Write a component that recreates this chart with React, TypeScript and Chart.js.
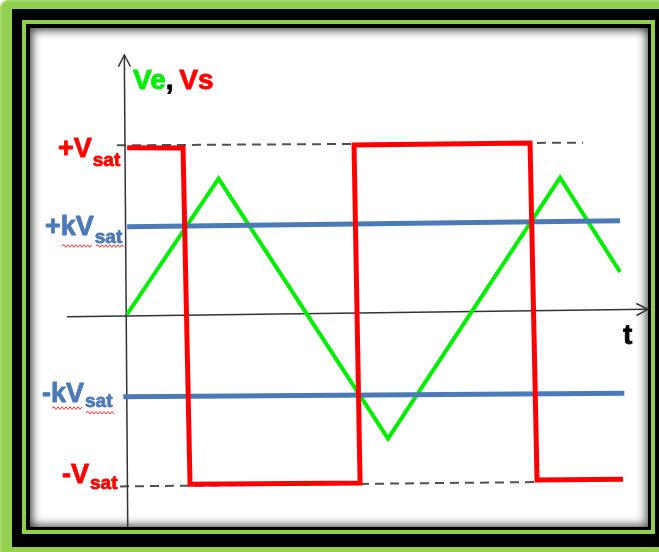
import React, { useEffect, useRef } from "react";
import { Chart, registerables } from "chart.js";

Chart.register(...registerables);

// ---- data (time in arbitrary units, voltage in volts) ----
// comparator output Vs (square wave)
const outputT = [0, 10.8, 12.15, 45.0, 43.83, 77.83, 79.18, 95.79];
const outputV = [11.91, 11.9, -11.97, -11.88, 12.11, 12.25, -11.66, -11.61];
// comparator input Ve (triangle wave)
const inputT = [0, 17.66, 50.4, 83.63, 95.21];
const inputV = [0.1, 9.72, -8.73, 9.79, 3.1];
// thresholds +kVsat / -kVsat
const upperThresholdT = [0, 95.21];
const upperThresholdV = [6.31, 6.74];
const lowerThresholdT = [-0.73, 96.04];
const lowerThresholdV = [-5.75, -5.51];
// saturation guide lines +Vsat / -Vsat
const satHighT = [-1.95, 88.06];
const satHighV = [12.09, 12.28];
const satLowT = [-1.37, 78.8];
const satLowV = [-12.12, -11.81];
// axes
const timeAxisT = [-11.6, 100.6];
const timeAxisV = [-0.07, 0.45];
const voltAxisT = [0.12, -0.54];
const voltAxisV = [-15, 18.5];

// level label texts
const levelMain = ["+V", "+kV", "-kV", "-V"];
const levelSub = ["sat", "sat", "sat", "sat"];
const levelValue = [outputV[0], upperThresholdV[0], lowerThresholdV[0], outputV[2]];

const RED = "#ff0000";
const GREEN = "#00f000";
const BLUE = "#4a7bb7";
const AXIS = "#333333";
const FONT = "'Liberation Sans', Arial, sans-serif";

const pts = (t: number[], v: number[]) => t.map((x, i) => ({ x, y: v[i] }));

// label layout (pixels)
const labelStyle = [
  { x: 58, dy: 9, subDy: 9, color: RED, squiggle: false, sq1: 0, sq2: 0 },
  { x: 45, dy: 8.3, subDy: 8, color: BLUE, squiggle: true, sq1: 11, sq2: 11 },
  { x: 42, dy: 5, subDy: 5, color: BLUE, squiggle: true, sq1: 6.5, sq2: 11 },
  { x: 62, dy: -1, subDy: 6, color: RED, squiggle: false, sq1: 0, sq2: 0 },
];

const drawSquiggle = (ctx: CanvasRenderingContext2D, x0: number, x1: number, y: number) => {
  ctx.beginPath();
  let up = true;
  ctx.moveTo(x0, y);
  for (let x = x0 + 2; x <= x1; x += 2) {
    ctx.lineTo(x, y + (up ? -1.3 : 1.3));
    up = !up;
  }
  ctx.strokeStyle = "#ff2a2a";
  ctx.lineWidth = 1;
  ctx.stroke();
};

const boldText = (ctx: CanvasRenderingContext2D, s: string, x: number, y: number, color: string) => {
  ctx.fillStyle = color;
  ctx.strokeStyle = color;
  ctx.lineWidth = 0.8;
  ctx.lineJoin = "round";
  ctx.fillText(s, x, y);
  ctx.strokeText(s, x, y);
};

const schematicPlugin = {
  id: "schematic",
  afterDraw(chart: any) {
    const ctx: CanvasRenderingContext2D = chart.ctx;
    const xs = chart.scales.x;
    const ys = chart.scales.y;
    ctx.save();

    // arrow heads
    const arrow = (tx: number, ty: number, fx: number, fy: number) => {
      const ang = Math.atan2(ty - fy, tx - fx);
      const L = 13;
      const a = 0.48;
      ctx.beginPath();
      ctx.moveTo(tx - L * Math.cos(ang - a), ty - L * Math.sin(ang - a));
      ctx.lineTo(tx, ty);
      ctx.lineTo(tx - L * Math.cos(ang + a), ty - L * Math.sin(ang + a));
      ctx.strokeStyle = AXIS;
      ctx.lineWidth = 1.5;
      ctx.stroke();
    };
    arrow(
      xs.getPixelForValue(voltAxisT[1]), ys.getPixelForValue(voltAxisV[1]),
      xs.getPixelForValue(voltAxisT[0]), ys.getPixelForValue(voltAxisV[0])
    );
    arrow(
      xs.getPixelForValue(timeAxisT[1]), ys.getPixelForValue(timeAxisV[1]),
      xs.getPixelForValue(timeAxisT[0]), ys.getPixelForValue(timeAxisV[0])
    );

    ctx.textAlign = "left";
    ctx.textBaseline = "alphabetic";

    // title Ve, Vs
    ctx.font = `bold 28px ${FONT}`;
    let tx = 133;
    const ty = 88.5;
    const parts: [string, string][] = [["Ve", GREEN], [", ", "#000000"], ["Vs", RED]];
    for (const [s, c] of parts) {
      boldText(ctx, s, tx, ty, c);
      tx += ctx.measureText(s).width - (s === ", " ? 2 : 0);
    }

    // t label
    ctx.font = `bold 28px ${FONT}`;
    boldText(ctx, "t", 623, 344, "#000000");

    // level labels
    levelMain.forEach((main, i) => {
      const st = labelStyle[i];
      const yb = ys.getPixelForValue(levelValue[i]) + st.dy;
      ctx.font = `bold 27px ${FONT}`;
      boldText(ctx, main, st.x, yb, st.color);
      const w0 = ctx.measureText(main.slice(0, 1)).width;
      const w = ctx.measureText(main).width + 1;
      ctx.font = `bold 19px ${FONT}`;
      boldText(ctx, levelSub[i], st.x + w, yb + st.subDy, st.color);
      const ws = ctx.measureText(levelSub[i]).width;
      if (st.squiggle) {
        drawSquiggle(ctx, st.x + w0 + 1, st.x + w - 2, yb + st.sq1);
        drawSquiggle(ctx, st.x + w + 1, st.x + w + ws + 3, yb + st.sq2);
      }
    });

    ctx.restore();
  },
};

export default function App() {
  const canvasRef = useRef<HTMLCanvasElement | null>(null);

  useEffect(() => {
    document.body.style.margin = "0";
    const canvas = canvasRef.current;
    if (!canvas) return;
    const lineBase = {
      pointRadius: 0,
      tension: 0,
      fill: false,
      clip: false as any,
      borderJoinStyle: "miter" as const,
      borderCapStyle: "butt" as const,
    };
    const chart = new Chart(canvas, {
      type: "line",
      data: {
        datasets: [
          { ...lineBase, label: "Vs", data: pts(outputT, outputV), borderColor: RED, borderWidth: 5, order: 0 },
          { ...lineBase, label: "+kVsat", data: pts(upperThresholdT, upperThresholdV), borderColor: BLUE, borderWidth: 5, order: 1 },
          { ...lineBase, label: "-kVsat", data: pts(lowerThresholdT, lowerThresholdV), borderColor: BLUE, borderWidth: 5, order: 1 },
          { ...lineBase, label: "Ve", data: pts(inputT, inputV), borderColor: GREEN, borderWidth: 4, order: 2 },
          { ...lineBase, label: "t axis", data: pts(timeAxisT, timeAxisV), borderColor: AXIS, borderWidth: 1.5, order: 3 },
          { ...lineBase, label: "V axis", data: pts(voltAxisT, voltAxisV), borderColor: AXIS, borderWidth: 1.5, order: 3 },
          { ...lineBase, label: "+Vsat", data: pts(satHighT, satHighV), borderColor: "#505050", borderWidth: 2, borderDash: [9, 6], order: 4 },
          { ...lineBase, label: "-Vsat", data: pts(satLowT, satLowV), borderColor: "#505050", borderWidth: 2, borderDash: [9, 6], order: 4 },
        ],
      },
      options: {
        animation: false,
        responsive: false,
        devicePixelRatio: 1,
        layout: { padding: { left: 65, right: 9, top: 55, bottom: 25 } },
        plugins: { legend: { display: false }, tooltip: { enabled: false }, title: { display: false } },
        scales: {
          x: { type: "linear", min: -12, max: 101, display: false },
          y: { type: "linear", min: -15, max: 18.5, display: false },
        },
        events: [],
      },
      plugins: [schematicPlugin],
    });
    return () => chart.destroy();
  }, []);

  const box = (l: number, t: number, r: number, b: number, bg: string, extra: React.CSSProperties = {}): React.CSSProperties => ({
    position: "absolute",
    left: l,
    top: t,
    width: r - l,
    height: b - t,
    background: bg,
    ...extra,
  });

  return (
    <div style={{ position: "fixed", left: 0, top: 0, width: 659, height: 552, overflow: "hidden", background: "#ffffff" }}>
      <div style={box(0, 0, 680, 560, "#92d050", { borderRadius: 8, boxShadow: "inset 0 0 3px rgba(255,255,255,0.6)" })} />
      <div style={box(12, 9, 672, 547, "#000000")} />
      <div style={box(22, 20, 655, 534, "#8ed14c")} />
      <div style={box(26, 24, 651, 530, "#000000")} />
      <div style={box(30, 28, 648, 527, "#ffffff", { boxShadow: "inset 3px 3px 9px rgba(0,0,0,0.6), inset -3px -3px 9px rgba(0,0,0,0.5)" })} />
      <canvas ref={canvasRef} width={659} height={552} style={{ position: "absolute", left: 0, top: 0, width: 659, height: 552 }} />
    </div>
  );
}
